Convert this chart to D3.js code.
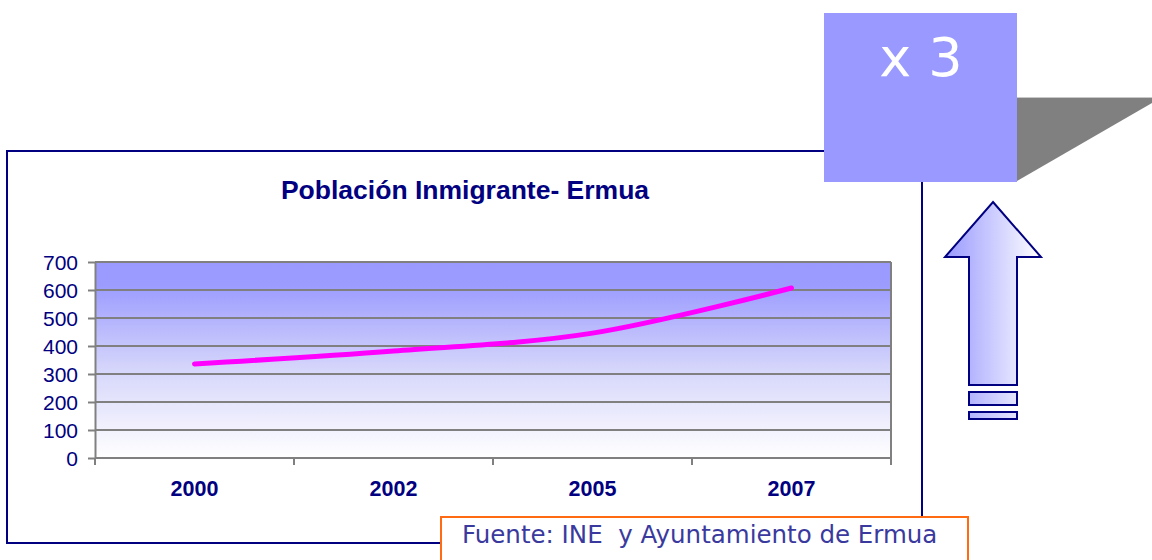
<!DOCTYPE html>
<html>
<head>
<meta charset="utf-8">
<script src="https://cdn.jsdelivr.net/npm/d3@7"></script>
<style>
  body { margin: 0; background: #fff; }
  svg { display: block; }
</style>
</head>
<body>
<svg id="chart"></svg>
<script>
const width = 1152;
const height = 560;

// data
const years = ["2000", "2002", "2005", "2007"];
const immigrants = [336, 382, 446, 607];
const yTicks = [0, 100, 200, 300, 400, 500, 600, 700];
const chartTitle = "Población Inmigrante- Ermua";
const sourceText = "Fuente: INE  y Ayuntamiento de Ermua";
const factorText = "x 3";

const navy = "#000080";

let svg = d3.select("#chart")
  .attr("width", width)
  .attr("height", height);

const defs = svg.append("defs");

// plot background gradient (top blue -> white)
const plotGrad = defs.append("linearGradient")
  .attr("id", "plotGrad")
  .attr("x1", 0).attr("y1", 0).attr("x2", 0).attr("y2", 1);
plotGrad.append("stop").attr("offset", "0%").attr("stop-color", "#9999ff");
plotGrad.append("stop").attr("offset", "12%").attr("stop-color", "#9c9cff");
plotGrad.append("stop").attr("offset", "55%").attr("stop-color", "#d6d6fb");
plotGrad.append("stop").attr("offset", "100%").attr("stop-color", "#ffffff");

// arrow gradient (left blue -> right white)
const arrowGrad = defs.append("linearGradient")
  .attr("id", "arrowGrad")
  .attr("gradientUnits", "userSpaceOnUse")
  .attr("x1", 945).attr("y1", 0).attr("x2", 1041).attr("y2", 0);
arrowGrad.append("stop").attr("offset", "0%").attr("stop-color", "#9999ff");
arrowGrad.append("stop").attr("offset", "100%").attr("stop-color", "#ffffff");

// outer chart frame
svg.append("rect")
  .attr("x", 7).attr("y", 151)
  .attr("width", 915).attr("height", 392)
  .attr("fill", "#fff")
  .attr("stroke", navy)
  .attr("stroke-width", 2);

// plot area
const plot = { left: 95, right: 891, top: 262, bottom: 458 };

const x = d3.scaleBand()
  .domain(years)
  .range([plot.left, plot.right])
  .paddingInner(0)
  .paddingOuter(0);

const y = d3.scaleLinear()
  .domain([0, 700])
  .range([plot.bottom, plot.top]);

svg.append("rect")
  .attr("x", plot.left).attr("y", y(700))
  .attr("width", plot.right - plot.left)
  .attr("height", y(0) - y(700))
  .attr("fill", "url(#plotGrad)");

// gridlines
svg.append("g")
  .selectAll("line")
  .data(yTicks)
  .enter()
  .append("line")
  .attr("x1", plot.left).attr("x2", plot.right)
  .attr("y1", d => y(d)).attr("y2", d => y(d))
  .attr("stroke", "#808080")
  .attr("stroke-width", 2);

// plot border right side
svg.append("line")
  .attr("x1", plot.right).attr("x2", plot.right)
  .attr("y1", y(700)).attr("y2", y(0))
  .attr("stroke", "#808080")
  .attr("stroke-width", 2);

// y axis
const yAxis = svg.append("g")
  .attr("transform", `translate(${plot.left}, 0)`)
  .call(d3.axisLeft(y).tickValues(yTicks).tickSize(7).tickSizeOuter(0).tickPadding(10));
yAxis.select(".domain").attr("stroke", "#808080").attr("stroke-width", 2);
yAxis.selectAll(".tick line").attr("stroke", "#808080").attr("stroke-width", 2);
yAxis.selectAll(".tick text")
  .attr("fill", navy)
  .attr("font-family", "'Liberation Sans', Arial, sans-serif")
  .attr("font-size", "21px")
  .attr("x", -17)
  .attr("dy", "0.34em");

// x tick marks at category boundaries
const boundaries = years.map(d => x(d)).concat([x.range()[1]]);
svg.append("g")
  .selectAll("line")
  .data(boundaries)
  .enter()
  .append("line")
  .attr("x1", d => d).attr("x2", d => d)
  .attr("y1", y(0)).attr("y2", y(0) + 7)
  .attr("stroke", "#808080")
  .attr("stroke-width", 2);

// x labels
svg.append("g")
  .selectAll("text")
  .data(years)
  .enter()
  .append("text")
  .attr("x", d => x(d) + x.bandwidth() / 2)
  .attr("y", 496)
  .attr("text-anchor", "middle")
  .attr("font-family", "'Liberation Sans', Arial, sans-serif")
  .attr("font-weight", "bold")
  .attr("font-size", "21.5px")
  .attr("fill", navy)
  .text(d => d);

// the line
const line = d3.line()
  .x((d, i) => x(years[i]) + x.bandwidth() / 2)
  .y(d => y(d))
  .curve(d3.curveCatmullRom.alpha(0.5));

svg.append("path")
  .datum(immigrants)
  .attr("d", line)
  .attr("fill", "none")
  .attr("stroke", "#ff00ff")
  .attr("stroke-width", 5)
  .attr("stroke-linecap", "round")
  .attr("stroke-linejoin", "round");

// title
svg.append("text")
  .attr("x", 465)
  .attr("y", 199)
  .attr("text-anchor", "middle")
  .attr("font-family", "'Liberation Sans', Arial, sans-serif")
  .attr("font-weight", "bold")
  .attr("font-size", "26.5px")
  .attr("fill", navy)
  .text(chartTitle);

// grey wedge behind the factor box
svg.append("polygon")
  .attr("points", "1017,98 1152,98 1152,103 1017,181")
  .attr("fill", "#808080");
svg.append("line")
  .attr("x1", 1017).attr("x2", 1152)
  .attr("y1", 97.5).attr("y2", 97.5)
  .attr("stroke", "#c8c8c8")
  .attr("stroke-width", 1);

// factor box
svg.append("rect")
  .attr("x", 824).attr("y", 13)
  .attr("width", 193).attr("height", 169)
  .attr("fill", "#9999ff");
svg.append("text")
  .attr("x", 921)
  .attr("y", 76)
  .attr("text-anchor", "middle")
  .attr("font-family", "'DejaVu Sans', Verdana, sans-serif")
  .attr("font-size", "54px")
  .attr("fill", "#fff")
  .text(factorText);

// up arrow
svg.append("polygon")
  .attr("points", "993,202 1041,257 1017,257 1017,385 969,385 969,257 945,257")
  .attr("fill", "url(#arrowGrad)")
  .attr("stroke", navy)
  .attr("stroke-width", 2)
  .attr("stroke-linejoin", "miter");
svg.append("rect")
  .attr("x", 969).attr("y", 392)
  .attr("width", 48).attr("height", 13)
  .attr("fill", "url(#arrowGrad)")
  .attr("stroke", navy)
  .attr("stroke-width", 2);
svg.append("rect")
  .attr("x", 969).attr("y", 412)
  .attr("width", 48).attr("height", 7)
  .attr("fill", "url(#arrowGrad)")
  .attr("stroke", navy)
  .attr("stroke-width", 2);

// source box
svg.append("rect")
  .attr("x", 441).attr("y", 517)
  .attr("width", 527).attr("height", 60)
  .attr("fill", "#fff")
  .attr("stroke", "#ff6a13")
  .attr("stroke-width", 2);
svg.append("text")
  .attr("x", 462)
  .attr("y", 543)
  .attr("font-family", "'DejaVu Sans', Verdana, sans-serif")
  .attr("font-size", "24.5px")
  .attr("fill", "#3a3a9e")
  .style("white-space", "pre")
  .text(sourceText);
</script>
</body>
</html>
